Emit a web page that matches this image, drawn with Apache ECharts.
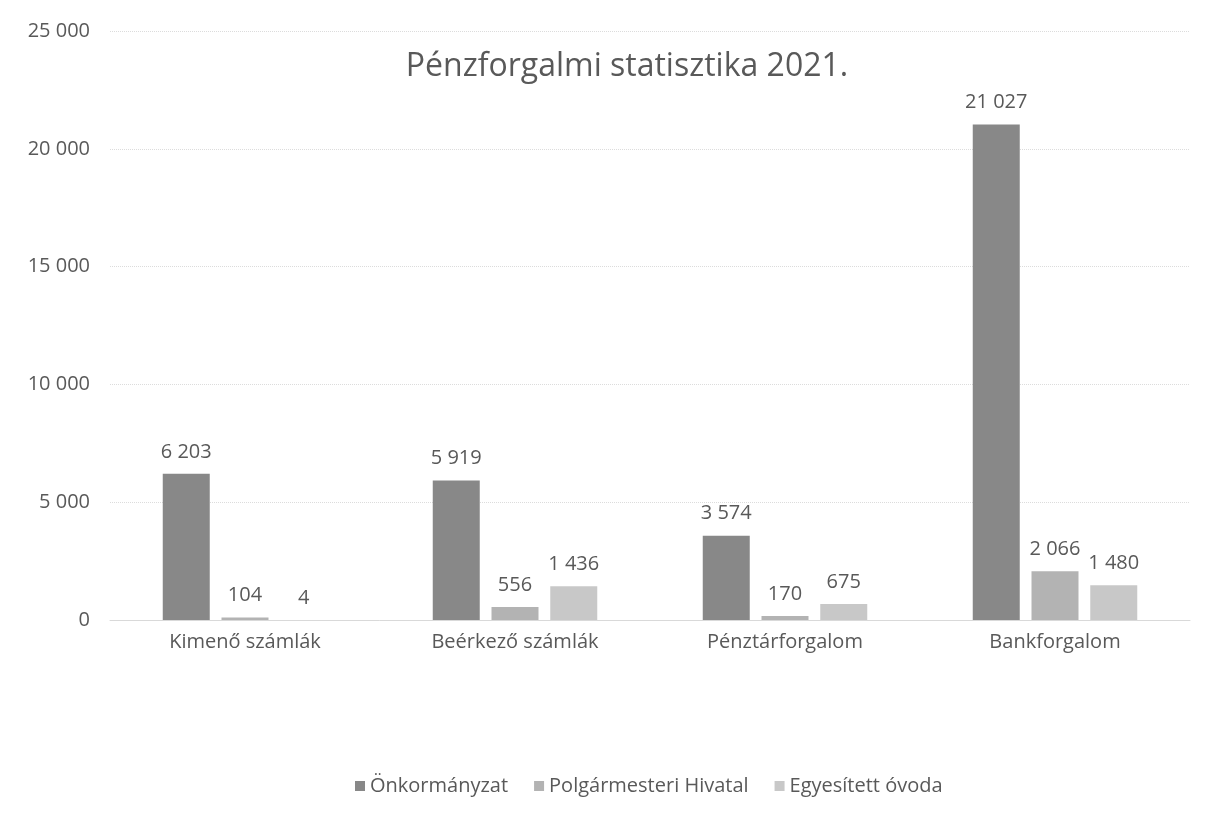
<!DOCTYPE html>
<html>
<head>
<meta charset="utf-8">
<script src="https://cdn.jsdelivr.net/npm/echarts@6/dist/echarts.min.js"></script>
<style>
  html, body { margin: 0; padding: 0; background: #fff; }
  #chart { width: 1208px; height: 819px; }
</style>
</head>
<body>
<div id="chart"></div>
<script>
// adatok
const categories = ["Kimenő számlák", "Beérkező számlák", "Pénztárforgalom", "Bankforgalom"];
const seriesNames = ["Önkormányzat", "Polgármesteri Hivatal", "Egyesített óvoda"];
const onkormanyzat = [6203, 5919, 3574, 21027];
const hivatal = [104, 556, 170, 2066];
const ovoda = [4, 1436, 675, 1480];
const colors = ["#888888", "#b3b3b3", "#c8c8c8"];

const fmt = v => String(v).replace(/\B(?=(\d{3})+(?!\d))/g, " ");
const textColor = "#595959";
const font = "Open Sans";

const chart = echarts.init(document.getElementById("chart"));

const makeSeries = (name, data, i) => ({
  name: name,
  type: "bar",
  data: data,
  barWidth: 47,
  barGap: "25%",
  itemStyle: { color: colors[i] },
  label: {
    show: true,
    position: "top",
    distance: 12,
    color: textColor,
    fontFamily: font,
    fontSize: 20,
    formatter: p => fmt(p.value),
  },
});

chart.setOption({
  backgroundColor: "#fff",
  animation: false,
  title: {
    text: "Pénzforgalmi statisztika 2021.",
    left: 622,
    textAlign: "center",
    top: 46,
    textStyle: { color: textColor, fontFamily: font, fontSize: 32, fontWeight: "normal" },
  },
  legend: {
    bottom: 18,
    left: 350,
    itemWidth: 10,
    itemHeight: 10,
    itemGap: 26,
    icon: "rect",
    textStyle: { color: textColor, fontFamily: font, fontSize: 20 },
    data: seriesNames,
  },
  grid: { left: 110, right: 18, top: 31, bottom: 199 },
  xAxis: {
    type: "category",
    data: categories,
    axisLine: { lineStyle: { color: "#d9d9d9" } },
    axisTick: { show: false },
    axisLabel: { color: textColor, fontFamily: font, fontSize: 20, margin: 12 },
  },
  yAxis: {
    type: "value",
    min: 0,
    max: 25000,
    interval: 5000,
    axisLine: { show: false },
    axisTick: { show: false },
    splitLine: { lineStyle: { color: "#dcdcdc", type: "dotted" } },
    axisLabel: { color: textColor, fontFamily: font, fontSize: 20, margin: 20, formatter: v => fmt(v) },
  },
  series: [
    makeSeries(seriesNames[0], onkormanyzat, 0),
    makeSeries(seriesNames[1], hivatal, 1),
    makeSeries(seriesNames[2], ovoda, 2),
  ],
});
</script>
</body>
</html>
